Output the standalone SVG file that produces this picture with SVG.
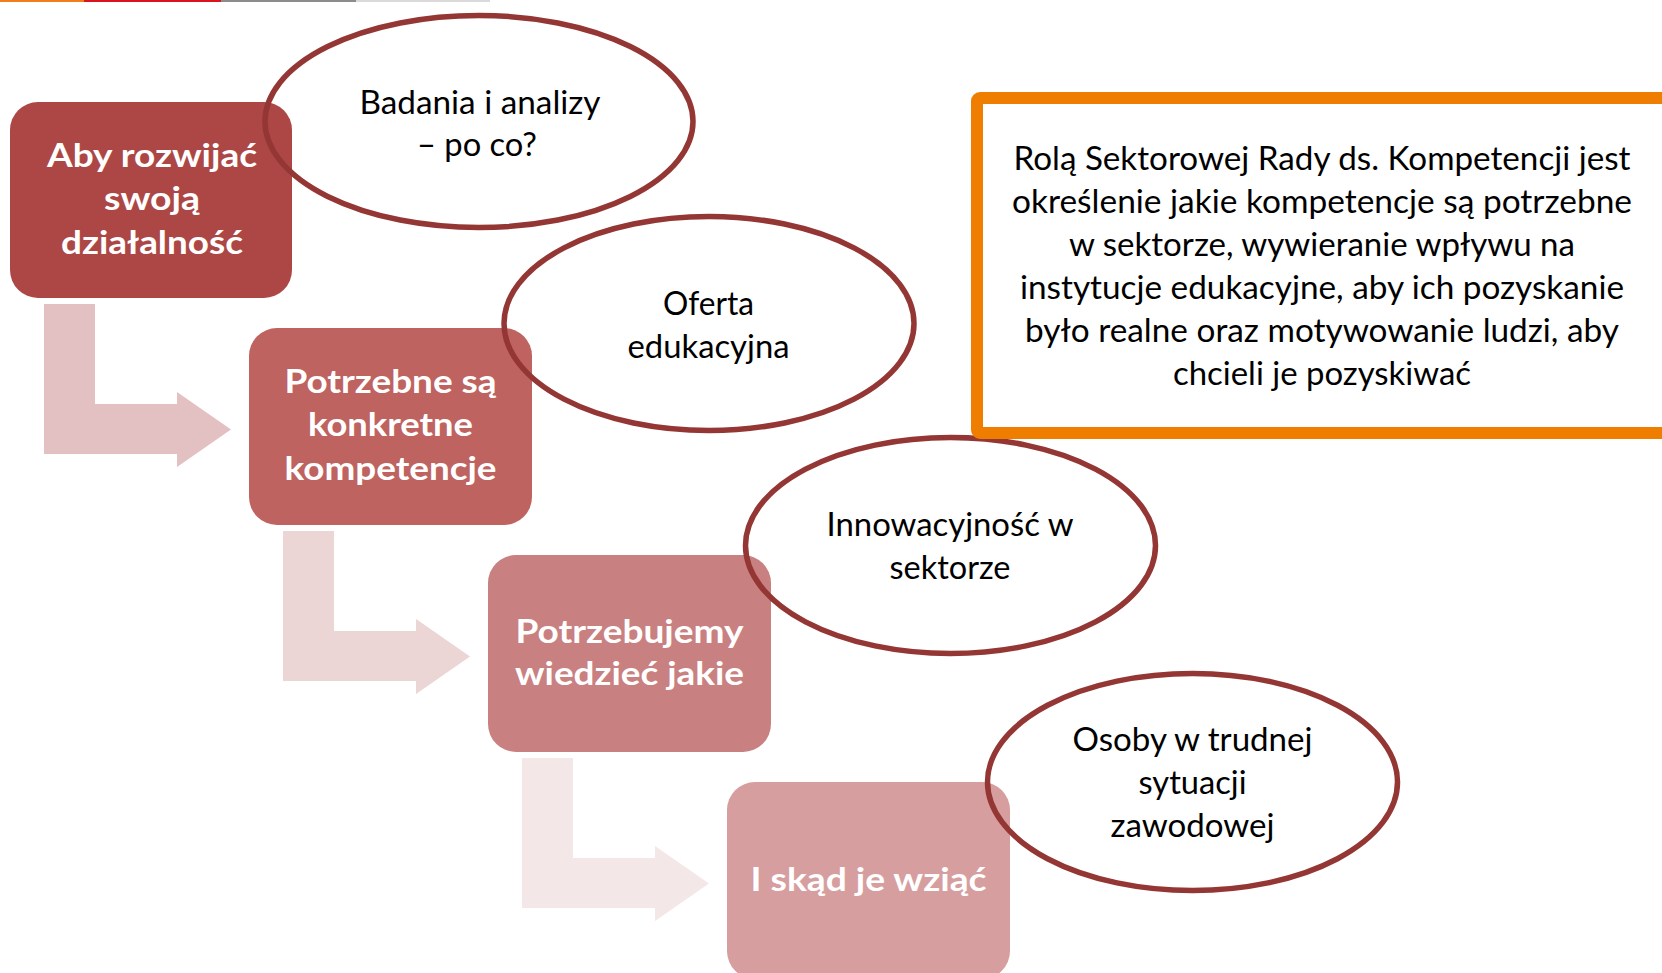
<svg xmlns="http://www.w3.org/2000/svg" width="1662" height="973" viewBox="0 0 1662 973">
<style>
.bx{stroke:none}
.bt{font-family:Lato,"Open Sans","Liberation Sans",sans-serif;font-weight:bold;font-size:32px;fill:#ffffff;text-anchor:middle}
.et{font-family:Lato,"Open Sans","Liberation Sans",sans-serif;font-size:32px;fill:#000000;text-anchor:middle}
.el{fill:none;stroke:#943634;stroke-width:5.5}
.ar{stroke:none}
</style>
<rect x="0" y="0" width="1662" height="973" fill="#ffffff"/>
<g id="topstrip">
<rect x="0" y="0" width="84" height="2" fill="#EF7D1A"/>
<rect x="84" y="0" width="137" height="2" fill="#D9141E"/>
<rect x="221" y="0" width="135" height="2" fill="#8C8C8C"/>
<rect x="356" y="0" width="134" height="2" fill="#DADADA"/>
</g>
<g id="connectors">
<path class="ar" fill="#E3C1C2" d="M44,304 H95 V404 H177 V392 L231,429.5 L177,467 V454 H44 Z"/>
<path class="ar" fill="#EBD5D5" d="M283,531 H334 V631 H416 V619 L470,656.5 L416,694 V681 H283 Z"/>
<path class="ar" fill="#F3E7E7" d="M522,758 H573 V858 H655 V846 L709,883.5 L655,921 V908 H522 Z"/>
</g>
<g id="box1">
<rect class="bx" x="10" y="102" width="282" height="196" rx="28" fill="#AD4745"/>
<text class="bt" x="152" y="167" textLength="210" lengthAdjust="spacingAndGlyphs">Aby rozwijać</text>
<text class="bt" x="152" y="210" textLength="96" lengthAdjust="spacingAndGlyphs">swoją</text>
<text class="bt" x="152" y="254" textLength="182" lengthAdjust="spacingAndGlyphs">działalność</text>
</g>
<g id="box2">
<rect class="bx" x="249" y="328" width="283" height="197" rx="28" fill="#BE6360"/>
<text class="bt" x="390.5" y="393" textLength="212" lengthAdjust="spacingAndGlyphs">Potrzebne są</text>
<text class="bt" x="390.5" y="436" textLength="165" lengthAdjust="spacingAndGlyphs">konkretne</text>
<text class="bt" x="390.5" y="480" textLength="212" lengthAdjust="spacingAndGlyphs">kompetencje</text>
</g>
<g id="box3">
<rect class="bx" x="488" y="555" width="283" height="197" rx="28" fill="#C98080"/>
<text class="bt" x="629.5" y="643" textLength="228" lengthAdjust="spacingAndGlyphs">Potrzebujemy</text>
<text class="bt" x="629.5" y="685" textLength="229" lengthAdjust="spacingAndGlyphs">wiedzieć jakie</text>
</g>
<g id="box4">
<rect class="bx" x="727" y="782" width="283" height="197" rx="28" fill="#D69E9E"/>
<text class="bt" x="868.5" y="891" textLength="236" lengthAdjust="spacingAndGlyphs">I skąd je wziąć</text>
</g>
<g id="ellipse1">
<ellipse class="el" cx="479" cy="121.5" rx="214" ry="106"/>
<text class="et" x="480" y="114" textLength="241" lengthAdjust="spacingAndGlyphs">Badania i analizy</text>
<text class="et" x="477" y="156" textLength="120" lengthAdjust="spacingAndGlyphs">– po co?</text>
</g>
<g id="ellipse2">
<ellipse class="el" cx="709" cy="323.5" rx="205" ry="107"/>
<text class="et" x="708.5" y="315" textLength="91" lengthAdjust="spacingAndGlyphs">Oferta</text>
<text class="et" x="708.5" y="358" textLength="162" lengthAdjust="spacingAndGlyphs">edukacyjna</text>
</g>
<g id="ellipse3">
<ellipse class="el" cx="950.5" cy="545.5" rx="205" ry="108"/>
<text class="et" x="950" y="536" textLength="247" lengthAdjust="spacingAndGlyphs">Innowacyjność w</text>
<text class="et" x="950" y="579" textLength="121" lengthAdjust="spacingAndGlyphs">sektorze</text>
</g>
<g id="ellipse4">
<ellipse class="el" cx="1192.5" cy="782" rx="205" ry="108.5"/>
<text class="et" x="1192.5" y="751" textLength="240" lengthAdjust="spacingAndGlyphs">Osoby w trudnej</text>
<text class="et" x="1192.5" y="794" textLength="108" lengthAdjust="spacingAndGlyphs">sytuacji</text>
<text class="et" x="1192.5" y="837" textLength="164" lengthAdjust="spacingAndGlyphs">zawodowej</text>
</g>
<g id="rolebox">
<rect x="977" y="98" width="720" height="335" rx="3" fill="#ffffff" stroke="#EF7D00" stroke-width="12"/>
<text class="et" x="1322" y="170" textLength="617" lengthAdjust="spacingAndGlyphs">Rolą Sektorowej Rady ds. Kompetencji jest</text>
<text class="et" x="1322" y="213" textLength="620" lengthAdjust="spacingAndGlyphs">określenie jakie kompetencje są potrzebne</text>
<text class="et" x="1322" y="256" textLength="506" lengthAdjust="spacingAndGlyphs">w sektorze, wywieranie wpływu na</text>
<text class="et" x="1322" y="299" textLength="604" lengthAdjust="spacingAndGlyphs">instytucje edukacyjne, aby ich pozyskanie</text>
<text class="et" x="1322" y="342" textLength="594" lengthAdjust="spacingAndGlyphs">było realne oraz motywowanie ludzi, aby</text>
<text class="et" x="1322" y="385" textLength="298" lengthAdjust="spacingAndGlyphs">chcieli je pozyskiwać</text>
</g>
</svg>
